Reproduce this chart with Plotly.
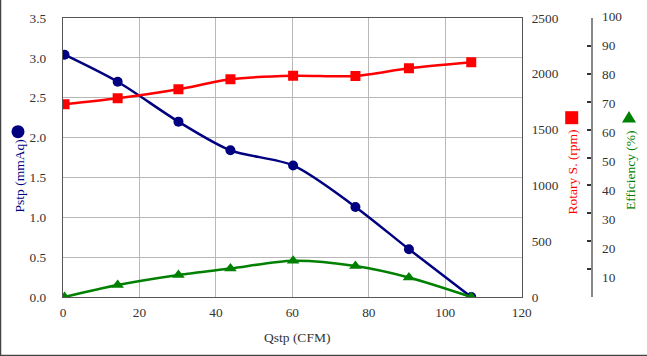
import plotly.graph_objects as go

# ---- data ----
qstp = [0.4, 14.3, 30.2, 43.8, 60.2, 76.5, 90.5, 106.8]
pstp = [3.04, 2.70, 2.20, 1.84, 1.65, 1.13, 0.60, 0.0]
rotary = [1727, 1780, 1861, 1951, 1983, 1980, 2049, 2103]
efficiency = [0.0, 4.3, 7.9, 10.2, 13.0, 11.1, 7.0, 0.0]

x_ticks = [0, 20, 40, 60, 80, 100, 120]
eff_ticks = [10, 20, 30, 40, 50, 60, 70, 80, 90, 100]

NAVY = "#000080"
RED = "#FF0000"
GREEN = "#008000"
FONT = "Liberation Serif"
TICKFONT = dict(family=FONT, size=13.3, color="#333333")

W, H = 647, 356
L, R, T, B = 63, 55, 18, 59
PW, PH = W - L - R, H - T - B


def px(xp):
    return (xp - L) / PW


def py(yp):
    return (H - B - yp) / PH


fig = go.Figure()
fig.add_trace(go.Scatter(x=qstp, y=pstp, mode="lines+markers", yaxis="y",
                         line=dict(color=NAVY, width=2.5, shape="spline", smoothing=0.8),
                         marker=dict(symbol="circle", size=10, color=NAVY), showlegend=False))
fig.add_trace(go.Scatter(x=qstp, y=rotary, mode="lines+markers", yaxis="y2",
                         line=dict(color=RED, width=2.5, shape="spline", smoothing=0.8),
                         marker=dict(symbol="square", size=10, color=RED), showlegend=False))
fig.add_trace(go.Scatter(x=qstp, y=efficiency, mode="lines+markers", yaxis="y3",
                         line=dict(color=GREEN, width=2.5, shape="spline", smoothing=0.8),
                         marker=dict(symbol="triangle-up", size=11, color=GREEN), showlegend=False))

xdom = (521.7 - L) / PW

fig.update_layout(
    width=W, height=H,
    margin=dict(l=L, r=R, t=T, b=B, autoexpand=False),
    paper_bgcolor="white", plot_bgcolor="white",
    font=dict(family=FONT),
    xaxis=dict(domain=[0, xdom], range=[0, 120], tickvals=x_ticks,
               showgrid=True, gridcolor="#b8b8b8", gridwidth=1,
               showline=True, linecolor="#555555", linewidth=1.2, mirror=True,
               ticks="", tickfont=TICKFONT, ticklabelstandoff=3, zeroline=False),
    yaxis=dict(range=[0, 3.5], dtick=0.5, tick0=0, tickformat=".1f",
               showgrid=True, gridcolor="#b8b8b8", gridwidth=1,
               showline=True, linecolor="#555555", linewidth=1.2, mirror=True,
               ticks="", tickfont=TICKFONT, ticklabelstandoff=13, zeroline=False),
    yaxis2=dict(overlaying="y", side="right", anchor="x", range=[0, 2500], dtick=500,
                showgrid=False, showline=False, ticks="", zeroline=False,
                tickfont=TICKFONT, ticklabelstandoff=9),
    yaxis3=dict(overlaying="y", side="right", anchor="free", position=1, range=[0, 100],
                dtick=10, showgrid=False, zeroline=False,
                showline=True, linecolor="#888888", linewidth=1.5,
                ticks="inside", ticklen=4, tickwidth=1.5, tickcolor="#333333",
                showticklabels=False),
)

# efficiency tick labels (slightly offset from the ticks, as in the original)
for v in eff_ticks:
    fig.add_annotation(x=1, xref="paper", y=v, yref="y3", text=str(v), showarrow=False,
                       xanchor="left", xshift=8, yshift=-(10.1 - 0.121 * v),
                       font=TICKFONT)

TITLE = 13.5
titles = [
    ("Qstp (CFM)", 296.7, 337, 0, "#333333"),
    ("Pstp (mmAq)", 18.5, 176, -90, NAVY),
    ("Rotary S. (rpm)", 572, 172.5, -90, RED),
    ("Efficiency (%)", 630, 170, -90, GREEN),
]
for text, tx, ty, ang, col in titles:
    fig.add_annotation(x=px(tx), y=py(ty), xref="paper", yref="paper", text=text,
                       textangle=ang, showarrow=False, xanchor="center", yanchor="middle",
                       font=dict(family=FONT, size=TITLE, color=col))

# title symbols
fig.add_shape(type="circle", xref="paper", yref="paper",
              x0=px(18 - 6.5), x1=px(18 + 6.5), y0=py(131.7 + 6.5), y1=py(131.7 - 6.5),
              fillcolor=NAVY, line=dict(width=0))
fig.add_shape(type="rect", xref="paper", yref="paper",
              x0=px(571.7 - 6.5), x1=px(571.7 + 6.5), y0=py(117.7 + 6.5), y1=py(117.7 - 6.5),
              fillcolor=RED, line=dict(width=0))
tri = "M {} {} L {} {} L {} {} Z".format(px(629 - 7), py(122.5), px(629 + 7), py(122.5),
                                         px(629), py(111))
fig.add_shape(type="path", xref="paper", yref="paper", path=tri,
              fillcolor=GREEN, line=dict(width=0))

# outer frame (left and bottom edges)
fig.add_shape(type="line", xref="paper", yref="paper", x0=px(0.5), x1=px(0.5), y0=py(0), y1=py(356),
              line=dict(color="#444444", width=1.5))
fig.add_shape(type="line", xref="paper", yref="paper", x0=px(0), x1=px(647), y0=py(355.5), y1=py(355.5),
              line=dict(color="#444444", width=1.5))

fig.write_html("out.html", config={"displayModeBar": False},
               post_script="document.body.style.margin='0';document.body.style.padding='0';")
